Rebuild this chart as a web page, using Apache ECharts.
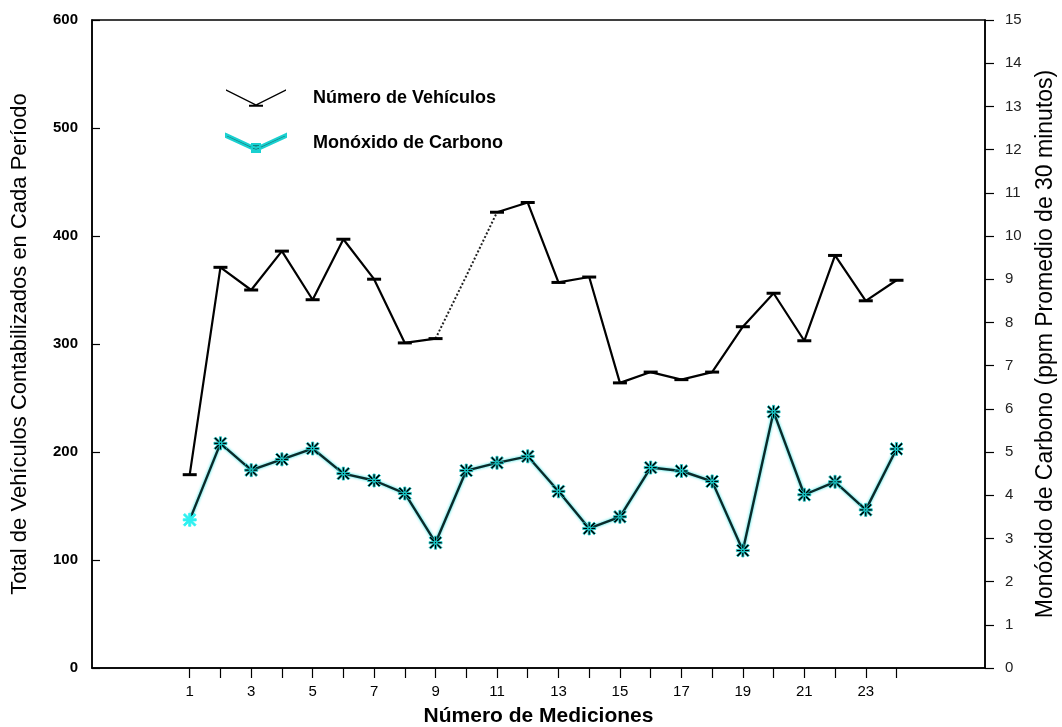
<!DOCTYPE html>
<html>
<head>
<meta charset="utf-8">
<script src="https://cdn.jsdelivr.net/npm/echarts@6/dist/echarts.min.js"></script>
<style>
html,body{margin:0;padding:0;background:#fff;}
#main{width:1062px;height:727px;}
</style>
</head>
<body>
<div id="main"></div>
<script>
// Measurement numbers (x)
const mediciones = [1,2,3,4,5,6,7,8,9,10,11,12,13,14,15,16,17,18,19,20,21,22,23,24];
// Total vehicles per period (left axis)
const vehiculos = [179,371,350,386,341,397,360,301,305,363,422,431,357,362,264,274,267,274,316,347,303,382,340,359];
// Carbon monoxide ppm, 30-min average (right axis)
const monoxido = [3.43,5.2,4.58,4.83,5.08,4.5,4.34,4.04,2.9,4.57,4.75,4.9,4.09,3.23,3.5,4.64,4.56,4.32,2.72,5.93,4.01,4.31,3.66,5.07];
// Tick values / labels
const xTicks = [1,2,3,4,5,6,7,8,9,10,11,12,13,14,15,16,17,18,19,20,21,22,23,24];
const xLabels = [1,3,5,7,9,11,13,15,17,19,21,23];
// Points drawn without marker, joined with a dotted line (measurement 10)
const puntosPunteados = [10];

const FONT = "'Liberation Sans Narrow','Liberation Sans',Arial,sans-serif";

const vehSolid = mediciones.map((m,i)=> puntosPunteados.includes(m) ? [m,null] : [m, vehiculos[i]]);
const vehDotted = mediciones.map((m,i)=> (puntosPunteados.includes(m) || puntosPunteados.includes(m-1) || puntosPunteados.includes(m+1)) ? [m, vehiculos[i]] : [m,null]);
const coData = mediciones.map((m,i)=> i===0 ? {value:[m, monoxido[i]], itemStyle:{color:'#2ff0f0', borderColor:'#2ff0f0'}} : [m, monoxido[i]]);

const asterisk = 'path://M5,0 L7,0 L7,12 L5,12 Z M0,5 L12,5 L12,7 L0,7 Z M1.5,0.1 L11.9,10.5 L10.5,11.9 L0.1,1.5 Z M10.5,0.1 L11.9,1.5 L1.5,11.9 L0.1,10.5 Z';
const dash = 'path://M0,0 L14,0 L14,2.5 L0,2.5 Z';

const chart = echarts.init(document.getElementById('main'), null, {renderer:'canvas'});
chart.setOption({
  backgroundColor:'#fff',
  animation:false,
  textStyle:{fontFamily:FONT},
  grid:{left:92,right:77,top:20,bottom:59,outerBoundsMode:'none',containLabel:false,show:true,borderColor:'#000',borderWidth:1.5,backgroundColor:'transparent'},
  legend:{
    orient:'vertical', left:220, top:84, itemGap:26, itemWidth:60, itemHeight:18,
    textStyle:{fontFamily:FONT,fontSize:18,color:'#000',fontWeight:'bold',padding:[0,0,0,22]},
    data:[
      {name:'Número de Vehículos', icon:'path://M0,0 L30,15 L60,0 L60,1.6 L30,16.6 L0,1.6 Z M23,15.5 L37,15.5 L37,17.5 L23,17.5 Z', itemStyle:{color:'#000'}},
      {name:'Monóxido de Carbono', icon:'path://M0,0 L30,14 L60,0 L60,3 L30,17 L0,3 Z M26,10 L34,10 L34,18 L26,18 Z', itemStyle:{color:'#177f7f'}}
    ]
  },
  xAxis:{
    type:'value', min:-2.18, max:26.88,
    name:'Número de Mediciones', nameLocation:'middle', nameGap:38,
    nameTextStyle:{fontFamily:FONT,fontSize:21,fontWeight:'bold',color:'#000'},
    axisLine:{show:true,onZero:false,lineStyle:{color:'#000',width:1.5}},
    axisTick:{show:true,length:10,inside:false,customValues:xTicks,lineStyle:{color:'#000',width:1.2}},
    axisLabel:{customValues:xLabels,fontFamily:FONT,fontSize:15,color:'#000',margin:16},
    splitLine:{show:false}
  },
  yAxis:[
    {
      type:'value', min:0, max:600, interval:100, position:'left',
      name:'Total de Vehículos Contabilizados en Cada Período', nameLocation:'middle', nameRotate:90, nameGap:61,
      nameTextStyle:{fontFamily:FONT,fontSize:22,color:'#000'},
      axisLine:{show:true,onZero:false,lineStyle:{color:'#000',width:1.5}},
      axisTick:{show:true,inside:true,length:8,lineStyle:{color:'#000',width:1.2}},
      axisLabel:{fontFamily:FONT,fontSize:15,fontWeight:'bold',color:'#000',margin:14},
      splitLine:{show:false}
    },
    {
      type:'value', min:0, max:15, interval:1, position:'right',
      name:'Monóxido de Carbono (ppm Promedio de 30 minutos)', nameLocation:'middle', nameRotate:90, nameGap:49,
      nameTextStyle:{fontFamily:FONT,fontSize:23,color:'#000'},
      axisLine:{show:true,onZero:false,lineStyle:{color:'#000',width:1.5}},
      axisTick:{show:true,inside:false,length:9,lineStyle:{color:'#000',width:1.2}},
      axisLabel:{fontFamily:FONT,fontSize:15,color:'#222',margin:20},
      splitLine:{show:false}
    }
  ],
  series:[
    {
      name:'Número de Vehículos', type:'line', yAxisIndex:0, data:vehSolid,
      symbol:dash, symbolSize:[14,3], showSymbol:true, connectNulls:false,
      lineStyle:{color:'#000',width:2.2}, itemStyle:{color:'#000'}, z:3
    },
    {
      name:'Número de Vehículos', type:'line', yAxisIndex:0, data:vehDotted,
      symbol:'none', connectNulls:false,
      lineStyle:{color:'#222',width:2,type:[2,2]}, itemStyle:{color:'#000'}, z:2
    },
    {
      name:'Monóxido de Carbono', type:'line', yAxisIndex:1, data:coData,
      symbol:asterisk, symbolSize:13,
      lineStyle:{color:'#0a2a2a',width:2.4,shadowColor:'#1ee0e0',shadowBlur:3},
      itemStyle:{color:'#000',borderColor:'#1ad0d0',borderWidth:0.8}, z:4
    }
  ]
});
</script>
</body>
</html>
